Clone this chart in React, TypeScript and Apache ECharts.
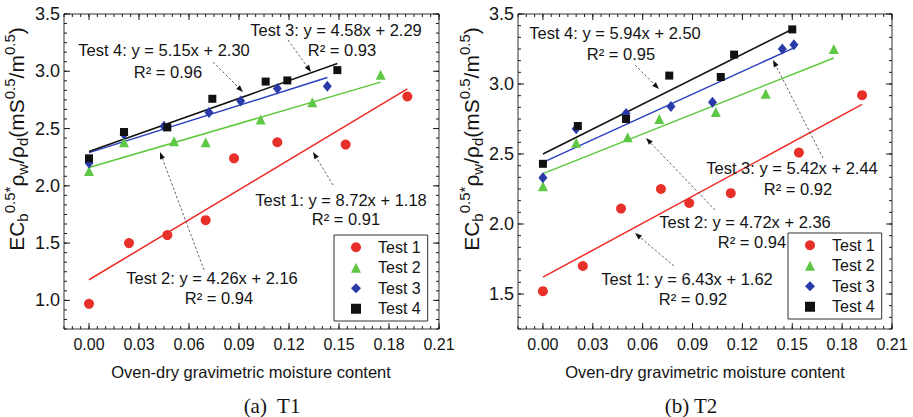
import React, { useEffect, useRef } from "react";
import * as echarts from "echarts";

// ---------- axis ticks ----------
const X_TICKS = [0, 0.03, 0.06, 0.09, 0.12, 0.15, 0.18, 0.21];
const Y_TICKS_T1 = [1.0, 1.5, 2.0, 2.5, 3.0, 3.5];
const Y_TICKS_T2 = [1.5, 2.0, 2.5, 3.0, 3.5];

const TEST_NAMES = ["Test 1", "Test 2", "Test 3", "Test 4"];

// ---------- panel (a) T1 ----------
const T1_TEST1_X = [0.0, 0.024, 0.047, 0.07, 0.087, 0.113, 0.154, 0.191];
const T1_TEST1_Y = [0.97, 1.5, 1.57, 1.7, 2.24, 2.38, 2.36, 2.78];
const T1_TEST2_X = [0.0, 0.021, 0.051, 0.07, 0.103, 0.134, 0.175];
const T1_TEST2_Y = [2.13, 2.38, 2.39, 2.38, 2.58, 2.73, 2.97];
const T1_TEST3_X = [0.0, 0.021, 0.045, 0.072, 0.091, 0.113, 0.143];
const T1_TEST3_Y = [2.2, 2.45, 2.52, 2.64, 2.74, 2.85, 2.87];
const T1_TEST4_X = [0.0, 0.021, 0.047, 0.074, 0.106, 0.119, 0.149];
const T1_TEST4_Y = [2.24, 2.47, 2.51, 2.76, 2.91, 2.92, 3.01];
const T1_SLOPES = [8.72, 4.26, 4.58, 5.15];
const T1_INTERCEPTS = [1.18, 2.16, 2.29, 2.3];
const T1_R2 = [0.91, 0.94, 0.93, 0.96];

// ---------- panel (b) T2 ----------
const T2_TEST1_X = [0.0, 0.024, 0.047, 0.071, 0.088, 0.113, 0.154, 0.192];
const T2_TEST1_Y = [1.52, 1.7, 2.11, 2.25, 2.15, 2.22, 2.51, 2.92];
const T2_TEST2_X = [0.0, 0.02, 0.051, 0.07, 0.104, 0.134, 0.175];
const T2_TEST2_Y = [2.27, 2.58, 2.62, 2.75, 2.8, 2.93, 3.25];
const T2_TEST3_X = [0.0, 0.02, 0.05, 0.077, 0.102, 0.144, 0.151];
const T2_TEST3_Y = [2.33, 2.68, 2.79, 2.84, 2.87, 3.25, 3.28];
const T2_TEST4_X = [0.0, 0.021, 0.05, 0.076, 0.107, 0.115, 0.15];
const T2_TEST4_Y = [2.43, 2.7, 2.75, 3.06, 3.05, 3.21, 3.39];
const T2_SLOPES = [6.43, 4.72, 5.42, 5.94];
const T2_INTERCEPTS = [1.62, 2.36, 2.44, 2.5];
const T2_R2 = [0.92, 0.94, 0.92, 0.95];

const X_TITLE = "Oven-dry gravimetric moisture content";
const CAPTIONS = ["(a)  T1", "(b) T2"];

// ---------- styles ----------
const FONT = "'Liberation Sans', Arial, Helvetica, sans-serif";
const SERIF = "'Liberation Serif', 'Times New Roman', serif";
const TEXT_COLOR = "#141414";
const TICK_COLOR = "#1a1a1a";
const MARKER_COLORS = ["#e8302a", "#5ec846", "#2a3aa8", "#111111"];
const LINE_COLORS = ["#ee2a22", "#5cc83a", "#2a3ec0", "#111111"];
const SYMBOLS = ["circle", "triangle", "diamond", "rect"];
const SYMBOL_SIZES: any[] = [10, 10, [9, 11], 8];

const X_MIN = -0.015;
const X_MAX = 0.21;
const Y_MAX = 3.5;

function zip(xs: number[], ys: number[]) {
  return xs.map((x, i) => [x, ys[i]]);
}

function stepValues(start: number, end: number, step: number) {
  const out: number[] = [];
  const n0 = Math.round(start / step);
  const n1 = Math.round(end / step);
  for (let k = n0; k <= n1; k++) out.push(Number((k * step).toFixed(6)));
  return out;
}

function makeAxes(gridIndex: number, yMin: number, yTicks: number[]) {
  const xAxis = {
    type: "value", gridIndex, min: X_MIN, max: X_MAX, position: "bottom",
    axisLine: { show: false, onZero: false },
    splitLine: { show: false },
    axisTick: { show: false },
    axisLabel: {
      show: true, customValues: X_TICKS, formatter: (v: number) => v.toFixed(2),
      fontSize: 16, color: TEXT_COLOR, fontFamily: FONT, margin: 7,
    },
  };
  const yAxis = {
    type: "value", gridIndex, min: yMin, max: Y_MAX, position: "left",
    axisLine: { show: false, onZero: false },
    splitLine: { show: false },
    axisTick: { show: false },
    axisLabel: {
      show: true, customValues: yTicks, formatter: (v: number) => v.toFixed(1),
      fontSize: 18, color: TEXT_COLOR, fontFamily: FONT, margin: 4,
    },
  };
  return { xAxis, yAxis };
}

// Inward ticks on all four sides, placed through the axes' own scales
function tickSeries(axisIndex: number, yMin: number, yTicks: number[]) {
  const xTickData = [
    ...stepValues(X_MIN, X_MAX, 0.005).map((v) => [v, 3]),
    ...X_TICKS.map((v) => [v, 6]),
  ];
  const yTickData = [
    ...stepValues(yMin, Y_MAX, 1 / 12).map((v) => [v, 3]),
    ...yTicks.map((v) => [v, 6]),
  ];
  const style = { stroke: TICK_COLOR, lineWidth: 1 };
  return [
    {
      type: "custom",
      xAxisIndex: axisIndex, yAxisIndex: axisIndex,
      silent: true, z: 4, clip: false,
      data: xTickData,
      renderItem: (_p: any, api: any) => {
        const v = api.value(0);
        const len = api.value(1);
        const b = api.coord([v, yMin]);
        const t = api.coord([v, Y_MAX]);
        return {
          type: "group",
          children: [
            { type: "line", shape: { x1: b[0], y1: b[1], x2: b[0], y2: b[1] - len }, style },
            { type: "line", shape: { x1: t[0], y1: t[1], x2: t[0], y2: t[1] + len }, style },
          ],
        };
      },
    },
    {
      type: "custom",
      xAxisIndex: axisIndex, yAxisIndex: axisIndex,
      silent: true, z: 4, clip: false,
      data: yTickData,
      renderItem: (_p: any, api: any) => {
        const v = api.value(0);
        const len = api.value(1);
        const l = api.coord([X_MIN, v]);
        const r = api.coord([X_MAX, v]);
        return {
          type: "group",
          children: [
            { type: "line", shape: { x1: l[0], y1: l[1], x2: l[0] + len, y2: l[1] }, style },
            { type: "line", shape: { x1: r[0], y1: r[1], x2: r[0] - len, y2: r[1] }, style },
          ],
        };
      },
    },
  ];
}

function makeSeries(
  axisIndex: number,
  xs: number[][],
  ys: number[][],
  slopes: number[],
  intercepts: number[]
) {
  const lines: any[] = [];
  const points: any[] = [];
  xs.forEach((xArr, i) => {
    const xEnd = Math.max(...xArr);
    lines.push({
      type: "line",
      name: `fit-${axisIndex}-${i}`,
      xAxisIndex: axisIndex,
      yAxisIndex: axisIndex,
      data: [
        [0, intercepts[i]],
        [xEnd, slopes[i] * xEnd + intercepts[i]],
      ],
      symbol: "none",
      silent: true,
      z: 2,
      lineStyle: { color: LINE_COLORS[i], width: 1.5 },
    });
    points.push({
      type: "scatter",
      name: TEST_NAMES[i],
      xAxisIndex: axisIndex,
      yAxisIndex: axisIndex,
      data: zip(xArr, ys[i]),
      symbol: SYMBOLS[i],
      symbolSize: SYMBOL_SIZES[i],
      symbolKeepAspect: true,
      z: 3,
      itemStyle: { color: MARKER_COLORS[i], opacity: 1 },
    });
  });
  return [...lines, ...points];
}

// ---------- annotation layout (pixels) ----------
const T1_EQ_POS = [
  [341, 200, 346, 219],
  [212, 278, 219, 298],
  [336, 30, 342, 50],
  [164, 50, 168, 72],
];
const T2_EQ_POS = [
  [687, 279, 693, 299],
  [745, 222, 752, 242],
  [792, 168, 798, 189],
  [615, 33, 621, 54],
];
const T1_ARROWS = [
  [333, 185, 313, 152],
  [204, 270, 160, 152],
  [288, 40, 311, 72],
  [213, 62, 243, 92],
];
const T2_ARROWS = [
  [674, 266, 635, 233],
  [715, 210, 646, 138],
  [823, 158, 773, 60],
  [635, 65, 659, 89],
];

function eqTexts(slopes: number[], intercepts: number[], r2: number[], pos: number[][]) {
  const out: any[] = [];
  slopes.forEach((s, i) => {
    const p = pos[i];
    out.push({
      type: "text", x: p[0], y: p[1], z: 10,
      style: {
        text: `${TEST_NAMES[i]}: y = ${s.toFixed(2)}x + ${intercepts[i].toFixed(2)}`,
        font: `16.5px ${FONT}`, fill: TEXT_COLOR, align: "center", verticalAlign: "middle",
      },
    });
    out.push({
      type: "text", x: p[2], y: p[3], z: 10,
      style: {
        text: `R² = ${r2[i].toFixed(2)}`,
        font: `16.5px ${FONT}`, fill: TEXT_COLOR, align: "center", verticalAlign: "middle",
      },
    });
  });
  return out;
}

function arrows(list: number[][]) {
  const out: any[] = [];
  list.forEach(([x1, y1, x2, y2]) => {
    const dx = x2 - x1;
    const dy = y2 - y1;
    const len = Math.sqrt(dx * dx + dy * dy);
    const ux = dx / len;
    const uy = dy / len;
    const hl = 7;
    const hw = 2.6;
    const bx = x2 - ux * hl;
    const by = y2 - uy * hl;
    out.push({
      type: "line", z: 9,
      shape: { x1, y1, x2: bx, y2: by },
      style: { stroke: "#555", lineWidth: 0.9, lineDash: [2.5, 2] },
    });
    out.push({
      type: "polygon", z: 9,
      shape: {
        points: [
          [x2, y2],
          [bx - uy * hw, by + ux * hw],
          [bx + uy * hw, by - ux * hw],
        ],
      },
      style: { fill: "#111" },
    });
  });
  return out;
}

function yTitle(x: number, y: number) {
  return {
    type: "text", x, y, rotation: Math.PI / 2, z: 10,
    style: {
      text:
        "{m|EC}{sub|b}{sup|0.5*}{m|ρ}{sub|w}{m|/ρ}{sub|d}{m|(mS}{sup|0.5}{m|/m}{sup|0.5}{m|)}",
      align: "center", verticalAlign: "middle", fill: TEXT_COLOR,
      rich: {
        m: { fontSize: 21, fontFamily: FONT, lineHeight: 28, verticalAlign: "middle", fill: TEXT_COLOR },
        sub: { fontSize: 15, fontFamily: FONT, lineHeight: 17, verticalAlign: "bottom", fill: TEXT_COLOR },
        sup: { fontSize: 15, fontFamily: FONT, lineHeight: 13, verticalAlign: "top", fill: TEXT_COLOR },
      },
    },
  };
}

function plainText(text: string, x: number, y: number, font: string) {
  return {
    type: "text", x, y, z: 10,
    style: { text, font, fill: TEXT_COLOR, align: "center", verticalAlign: "middle" },
  };
}

export default function App() {
  const ref = useRef<HTMLDivElement>(null);

  useEffect(() => {
    if (!ref.current) return;
    const chart = echarts.init(ref.current, undefined, { renderer: "svg" });

    const a1 = makeAxes(0, 0.75, Y_TICKS_T1);
    const a2 = makeAxes(1, 1.25, Y_TICKS_T2);

    const legendBase = {
      orient: "vertical",
      data: TEST_NAMES.map((n, i) => ({ name: n, icon: SYMBOLS[i] })),
      borderColor: "#333",
      borderWidth: 1,
      borderRadius: 0,
      padding: [4, 7, 4, 17],
      itemWidth: 10,
      itemHeight: 10,
      itemGap: 4,
      selectedMode: false,
      z: 20,
      backgroundColor: "#ffffff",
      textStyle: {
        fontSize: 16, color: TEXT_COLOR, fontFamily: FONT, lineHeight: 16.5,
        padding: [0, 0, 0, 12],
      },
    };

    const option: any = {
      animation: false,
      backgroundColor: "#ffffff",
      grid: [
        { left: 64, top: 14, width: 375, height: 315, show: true, borderColor: "#333", borderWidth: 1, backgroundColor: "transparent", containLabel: false },
        { left: 518, top: 14, width: 374, height: 315, show: true, borderColor: "#333", borderWidth: 1, backgroundColor: "transparent", containLabel: false },
      ],
      xAxis: [a1.xAxis, a2.xAxis],
      yAxis: [a1.yAxis, a2.yAxis],
      legend: [
        { ...legendBase, left: 334, top: 235 },
        { ...legendBase, left: 788, top: 233 },
      ],
      series: [
        ...tickSeries(0, 0.75, Y_TICKS_T1),
        ...tickSeries(1, 1.25, Y_TICKS_T2),
        ...makeSeries(
          0,
          [T1_TEST1_X, T1_TEST2_X, T1_TEST3_X, T1_TEST4_X],
          [T1_TEST1_Y, T1_TEST2_Y, T1_TEST3_Y, T1_TEST4_Y],
          T1_SLOPES,
          T1_INTERCEPTS
        ),
        ...makeSeries(
          1,
          [T2_TEST1_X, T2_TEST2_X, T2_TEST3_X, T2_TEST4_X],
          [T2_TEST1_Y, T2_TEST2_Y, T2_TEST3_Y, T2_TEST4_Y],
          T2_SLOPES,
          T2_INTERCEPTS
        ),
      ],
      graphic: [
        ...eqTexts(T1_SLOPES, T1_INTERCEPTS, T1_R2, T1_EQ_POS),
        ...eqTexts(T2_SLOPES, T2_INTERCEPTS, T2_R2, T2_EQ_POS),
        ...arrows(T1_ARROWS),
        ...arrows(T2_ARROWS),
        yTitle(16, 139),
        yTitle(471, 139),
        plainText(X_TITLE, 251, 372, `16.5px ${FONT}`),
        plainText(X_TITLE, 705, 372, `16.5px ${FONT}`),
        plainText(CAPTIONS[0], 272, 406, `21px ${SERIF}`),
        plainText(CAPTIONS[1], 691, 406, `21px ${SERIF}`),
      ],
    };

    chart.setOption(option);
    return () => chart.dispose();
  }, []);

  return (
    <div
      ref={ref}
      style={{ position: "fixed", left: 0, top: 0, width: 913, height: 417, background: "#fff" }}
    />
  );
}
